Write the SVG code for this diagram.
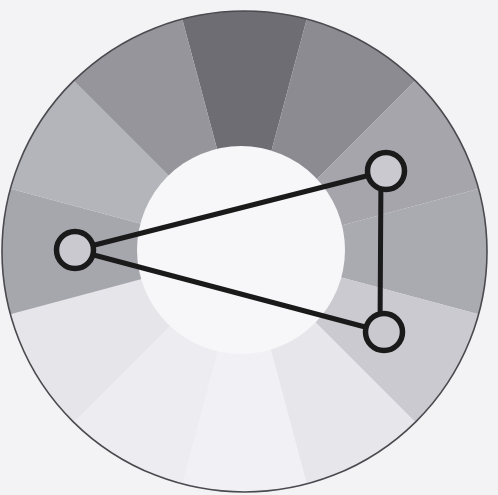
<svg xmlns="http://www.w3.org/2000/svg" width="498" height="495" viewBox="0 0 498 495">
  <style>
    .node circle { fill: #c9c9cf; stroke: #1a1a1a; stroke-width: 5.5; }
    .edge { stroke: #1a1a1a; stroke-width: 5; stroke-linecap: round; fill: none; }
  </style>
  <defs>
    <clipPath id="ringClip">
      <ellipse cx="244.5" cy="251.5" rx="242.5" ry="240.5"/>
    </clipPath>
  </defs>
  <rect x="0" y="0" width="498" height="495" fill="#f3f3f6"/>
  <g id="ring" clip-path="url(#ringClip)">
    <polygon points="244.5,251.5 166.9,-38.3 322.1,-38.3" fill="#6e6d73"/>
    <polygon points="244.5,251.5 322.1,-38.3 456.6,39.4" fill="#8b8b91"/>
    <polygon points="244.5,251.5 456.6,39.4 534.3,173.9" fill="#a5a5ab"/>
    <polygon points="244.5,251.5 534.3,173.9 534.3,329.1" fill="#aaaab1"/>
    <polygon points="244.5,251.5 534.3,329.1 456.6,463.6" fill="#cacad0"/>
    <polygon points="244.5,251.5 456.6,463.6 322.1,541.3" fill="#e6e6eb"/>
    <polygon points="244.5,251.5 322.1,541.3 166.9,541.3" fill="#f1f1f5"/>
    <polygon points="244.5,251.5 166.9,541.3 32.4,463.6" fill="#ededf1"/>
    <polygon points="244.5,251.5 32.4,463.6 -45.3,329.1" fill="#e5e5ea"/>
    <polygon points="244.5,251.5 -45.3,329.1 -45.3,173.9" fill="#a6a6ad"/>
    <polygon points="244.5,251.5 -45.3,173.9 32.4,39.4" fill="#b4b4bb"/>
    <polygon points="244.5,251.5 32.4,39.4 166.9,-38.3" fill="#95959b"/>
    <circle cx="241" cy="250" r="104" fill="#f7f7f9"/>
  </g>
  <ellipse cx="244.5" cy="251.5" rx="242.5" ry="240.5" fill="none" stroke="#4a4a4f" stroke-width="1.6"/>
  <g id="connectors">
    <line class="edge" x1="75" y1="250" x2="386" y2="171"/>
    <line class="edge" x1="75" y1="250" x2="384" y2="332"/>
    <line class="edge" x1="381" y1="171" x2="380" y2="332"/>
  </g>
  <g id="node-left" class="node"><circle cx="75" cy="250" r="18.5"/></g>
  <g id="node-top-right" class="node"><circle cx="386" cy="171" r="18.5"/></g>
  <g id="node-bottom-right" class="node"><circle cx="384" cy="332" r="18.5"/></g>
</svg>
